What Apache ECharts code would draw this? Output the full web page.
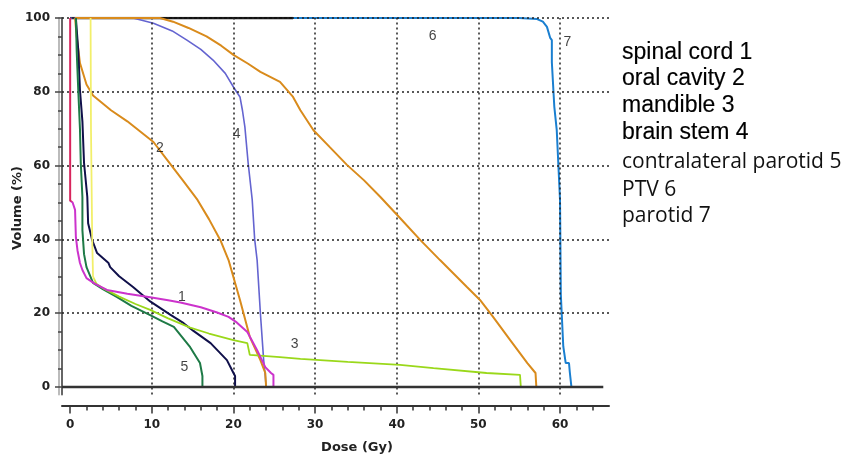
<!DOCTYPE html>
<html>
<head>
<meta charset="utf-8">
<script src="https://cdn.jsdelivr.net/npm/echarts@6/dist/echarts.min.js"></script>
<style>
  html, body { margin: 0; padding: 0; background: #fff; }
  #chart { width: 848px; height: 457px; }
</style>
</head>
<body>
<div id="chart"></div>
<script>
// ticks and grid positions
var xTicks = [0,2,4,6,8,10,12,14,16,18,20,22,24,26,28,30,32,34,36,38,40,42,44,46,48,50,52,54,56,58,60,62,64];
var xMajor = [0,10,20,30,40,50,60];
var yTicks = [0,5,10,15,20,25,30,35,40,45,50,55,60,65,70,75,80,85,90,95,100];
var yMajor = [0,20,40,60,80,100];
var xGridLines = [10,20,30,40,50,60];
var yGridLines = [20,40,60,80,100];

// DVH curves [dose Gy, volume %]
var spinalCord = [[0,100],[0,50.5],[0.3,50],[0.6,48],[0.7,40.6],[0.9,37],[1.2,33.6],[1.5,31.7],[2.0,29.5],[3,28],[4.5,26.3],[7,25.3],[9.8,24.3],[12,23.5],[13.5,22.9],[16,21.6],[18,20.2],[19.4,19],[20.4,17.5],[21.7,14.9],[22.9,10],[23.9,5.4],[24.6,3.8],[24.9,3.3],[24.9,0]];
var oralCavity = [[0.6,100],[0.8,95],[1.2,87.8],[2,82],[2.8,79],[5,75],[7,72],[10.2,66.4],[11.9,61.5],[13.8,56],[15.6,50.7],[17,45.5],[18.4,39.8],[19.4,34.4],[20.8,23.6],[22,13.6],[23.3,7.3],[23.9,3.8],[24,0]];
var mandible = [[2.5,100],[2.55,70],[2.7,40],[2.8,30],[3.2,28],[4,26.8],[6,24.5],[8,22.5],[9.8,20.9],[12,18.6],[14.7,16.1],[17,14.5],[20,12.7],[21.7,11.9],[22,8.7],[25.7,8.1],[28.2,7.6],[34,6.8],[40.4,6],[44.5,5.1],[51,3.8],[55.1,3.3],[55.2,0]];
var brainStem = [[0,100],[7.7,100],[10.2,98.6],[12.5,96.5],[14.3,94],[16,91.5],[17.5,88.6],[19,85],[20,81.3],[20.8,78.6],[21.1,75],[21.4,70.5],[21.8,60.7],[22.3,50.7],[22.6,40],[22.9,34.4],[23.3,20],[23.7,7.3],[23.9,3],[24,0]];
var contraParotid = [[0.7,100],[0.8,91],[1.0,80],[1.2,70],[1.3,60.7],[1.5,51.5],[1.5,42.5],[1.7,36],[2.0,32.5],[2.8,28.2],[4,26.5],[5.7,24.4],[7.5,22],[9.8,19.5],[11.3,17.8],[12.7,16.3],[14.7,10.8],[15.9,6.5],[16.2,3],[16.2,0]];
var darkCurve = [[0.7,100],[1.0,91],[1.2,80.5],[1.5,72],[1.7,60.7],[2.1,51.5],[2.2,44.4],[2.7,39.8],[3.3,36.3],[4.7,33.6],[4.9,32.5],[6,30],[7.7,27.1],[9.8,23.2],[12.2,19.7],[13.9,17.3],[15.1,15.2],[17.2,11.9],[19.2,7.3],[20,3.8],[20.2,3],[20.2,0]];
var ptv = [[0,100],[55,100],[57.2,99.7],[57.9,99],[58.4,97.6],[58.8,94.6],[59,94],[59,88],[59.2,87.8],[59.3,76],[59.6,69.6],[60,50.7],[60.1,25],[60.3,25],[60.4,11],[60.6,11],[60.7,6.5],[61.1,6.5],[61.2,4],[61.4,4],[61.4,0]];
var parotid = [[0.6,100],[11,100],[12.6,99],[14.5,97.3],[16.7,95],[18.5,92.5],[20,90],[21.8,87.6],[23.3,85.4],[25.7,82.7],[27.3,78.6],[28.2,75],[29.8,69.6],[31.8,65],[33.9,60.2],[36,56],[38,51.5],[40.4,45.8],[42.9,39.8],[45.3,34.4],[48.6,27.1],[50.2,23.6],[51.8,19],[53.9,12.7],[56,6.5],[57,3.8],[57.1,0]];
var topBlack = [[0,100],[27.3,100]];
var baseline = [[-1,0],[65.3,0]];

// curve number labels
var curveLabelNames = ['1','2','3','4','5','6','7'];
var curveLabelPos = [[13.7,24.4],[11.0,64.8],[27.5,11.7],[20.4,68.6],[14.0,5.4],[44.4,95.1],[60.9,93.5]];

var legendTexts = ['spinal cord 1','oral cavity 2','mandible 3','brain stem 4','contralateral parotid 5','PTV 6','parotid 7'];
var legendY = [53,79,106,133,162,190,216];

var chart = echarts.init(document.getElementById('chart'));

function curve(name, data, color, width, z) {
  return {
    name: name, type: 'line', data: data, showSymbol: false, symbol: 'none',
    lineStyle: { color: color, width: width }, z: z, silent: true
  };
}

var labelData = [];
for (var i = 0; i < curveLabelNames.length; i++) {
  labelData.push({ name: curveLabelNames[i], value: curveLabelPos[i] });
}

var graphics = [];
for (var k = 0; k < legendTexts.length; k++) {
  var big = k < 4;
  graphics.push({
    type: 'text', x: 622, y: legendY[k],
    style: {
      text: legendTexts[k],
      font: big ? '23px "Liberation Sans", Arial, sans-serif' : '21px "Open Sans", sans-serif',
      fill: big ? '#000' : '#111',
      stroke: big ? '#000' : null, lineWidth: big ? 0.15 : 0,
      verticalAlign: 'middle'
    }
  });
}
graphics.push({
  type: 'text', x: 357, y: 448,
  style: { text: 'Dose (Gy)', font: 'bold 13px "DejaVu Sans", sans-serif', fill: '#222', align: 'center', verticalAlign: 'middle' }
});
graphics.push({
  type: 'text', x: 18, y: 208, rotation: Math.PI / 2,
  style: { text: 'Volume (%)', font: 'bold 13px "DejaVu Sans", sans-serif', fill: '#222', align: 'center', verticalAlign: 'middle' }
});

var gridMarks = [];
xGridLines.forEach(function (v) { gridMarks.push({ xAxis: v }); });
yGridLines.forEach(function (v) { gridMarks.push({ yAxis: v }); });

var option = {
  animation: false,
  grid: { left: 62, right: 239, top: 18, bottom: 62.6 },
  xAxis: [{
    type: 'value', min: -1, max: 66, position: 'bottom', offset: 11,
    splitLine: { show: false },
    axisLine: { onZero: false, lineStyle: { color: '#333', width: 2 } },
    axisTick: { customValues: xTicks, length: 5, lineStyle: { color: '#333', width: 1.5 } },
    axisLabel: { customValues: xMajor, margin: 13, color: '#222', fontWeight: 'bold', fontSize: 12, fontFamily: 'DejaVu Sans' }
  }, {
    type: 'value', min: -1, max: 66, position: 'bottom', offset: 11,
    splitLine: { show: false },
    axisLine: { show: false, onZero: false },
    axisTick: { customValues: xMajor, length: 8, lineStyle: { color: '#333', width: 1.5 } },
    axisLabel: { show: false }
  }],
  yAxis: [{
    type: 'value', min: -2, max: 100, position: 'left',
    splitLine: { show: false },
    axisLine: { show: true, onZero: false, lineStyle: { color: '#666', width: 2 } },
    axisTick: { customValues: yTicks, length: 4, lineStyle: { color: '#444', width: 1.5 } },
    axisLabel: { customValues: yMajor, margin: 12, color: '#222', fontWeight: 'bold', fontSize: 12, fontFamily: 'DejaVu Sans' }
  }, {
    type: 'value', min: -2, max: 100, position: 'left', offset: 3,
    splitLine: { show: false },
    axisLine: { show: true, onZero: false, lineStyle: { color: '#bbb', width: 2 } },
    axisTick: { customValues: yMajor, length: 4, lineStyle: { color: '#444', width: 1.5 } },
    axisLabel: { show: false }
  }],
  graphic: graphics,
  series: [
    {
      name: 'grid', type: 'line', data: [], z: 1, silent: true,
      markLine: {
        silent: true, symbol: ['none', 'none'], label: { show: false },
        lineStyle: { type: [2, 3], color: '#222', width: 1.5 },
        data: gridMarks
      }
    },
    curve('PTV', ptv, '#1a7fd0', 2, 2),
    curve('top', topBlack, '#111', 2.5, 3),
    curve('brain stem', brainStem, '#6464d0', 1.6, 4),
    curve('parotid', parotid, '#d98b1c', 2, 5),
    curve('oral cavity', oralCavity, '#d98b1c', 2, 6),
    curve('dark', darkCurve, '#10104a', 2, 7),
    curve('contralateral parotid', contraParotid, '#1e7a46', 2, 8),
    {
      name: 'mandible', type: 'line', data: mandible, showSymbol: false, symbol: 'none', z: 9, silent: true,
      lineStyle: {
        width: 1.8,
        color: new echarts.graphic.LinearGradient(0, 0, 0, 1, [
          { offset: 0, color: '#f2ef6a' }, { offset: 0.7, color: '#f2ef6a' },
          { offset: 0.72, color: '#9ad81a' }, { offset: 1, color: '#9ad81a' }
        ])
      }
    },
    {
      name: 'spinal cord', type: 'line', data: spinalCord, showSymbol: false, symbol: 'none', z: 10, silent: true,
      lineStyle: {
        width: 2,
        color: new echarts.graphic.LinearGradient(0, 0, 0, 1, [
          { offset: 0, color: '#d8245c' }, { offset: 0.495, color: '#d8245c' },
          { offset: 0.5, color: '#cc33cc' }, { offset: 1, color: '#cc33cc' }
        ])
      }
    },
    curve('baseline', baseline, '#333', 2.5, 11),
    {
      name: 'labels', type: 'scatter', data: labelData, symbolSize: 0, z: 12, silent: true,
      label: {
        show: true, position: 'inside', formatter: '{b}',
        color: '#111', fontSize: 14, fontFamily: 'Liberation Sans'
      }
    }
  ]
};
chart.setOption(option);
</script>
</body>
</html>
